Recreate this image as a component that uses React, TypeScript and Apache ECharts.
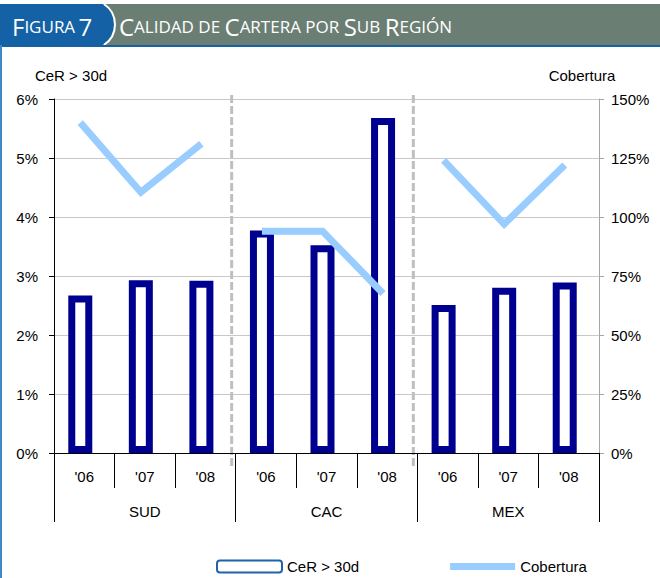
import React, { useEffect, useRef } from "react";
import * as echarts from "echarts";

const yearLabels = ["'06", "'07", "'08", "'06", "'07", "'08", "'06", "'07", "'08"];
const regions = ["SUD", "CAC", "MEX"];
const cerValues = [2.67, 2.93, 2.92, 3.77, 3.52, 5.68, 2.51, 2.8, 2.89];
const coberturaValues = [140, 110.5, 131, 94, 94, 67.6, 124, 97, 122];
const leftAxis = { min: 0, max: 6, interval: 1 };
const rightAxis = { min: 0, max: 150, interval: 25 };

const FONT = "Liberation Sans, Arial, sans-serif";
const HFONT = "Open Sans, Noto Sans, sans-serif";
const NAVY = "#000090";
const LIGHTBLUE = "#99CCFF";
const HEADER_BLUE = "#1462A5";

export default function App() {
  const ref = useRef<HTMLDivElement>(null);
  useEffect(() => {
    document.body.style.margin = "0";
    const chart = echarts.init(ref.current!, null, { renderer: "svg" });
    const perGroup = 3;
    const lineSeries = regions.map((r, gi) => ({
      type: "line",
      name: "Cobertura",
      xAxisIndex: 0,
      yAxisIndex: 1,
      data: coberturaValues.map((v, i) => (Math.floor(i / perGroup) === gi ? v : null)),
      connectNulls: false,
      symbol: "none",
      showSymbol: false,
      lineStyle: { color: LIGHTBLUE, width: 7, join: "miter", cap: "butt" },
      itemStyle: { color: LIGHTBLUE },
      z: 3,
    }));
    const option: any = {
      animation: false,
      textStyle: { fontFamily: FONT },
      grid: [
        { left: 50, right: 65, top: 99, bottom: 125 },
        { left: 54, right: 61, top: 99, bottom: 125 },
      ],
      xAxis: [
        { type: "category", gridIndex: 0, data: yearLabels, show: false },
        {
          type: "category",
          gridIndex: 1,
          data: yearLabels,
          position: "bottom",
          z: 5,
          axisLine: { lineStyle: { color: "#000", width: 1 } },
          axisTick: { show: true, interval: 0, length: 35, lineStyle: { color: "#000" } },
          axisLabel: { interval: 0, margin: 16, fontSize: 15, color: "#000", fontFamily: FONT },
          splitLine: { show: false },
        },
        {
          type: "category",
          gridIndex: 1,
          data: regions,
          position: "bottom",
          axisLine: { show: false },
          axisTick: { show: true, interval: 0, length: 69, lineStyle: { color: "#000" } },
          axisLabel: { interval: 0, margin: 51, fontSize: 15, color: "#000", fontFamily: FONT },
          splitLine: { show: false },
        },
      ],
      yAxis: [
        { type: "value", gridIndex: 0, ...leftAxis, show: false },
        { type: "value", gridIndex: 0, ...rightAxis, show: false },
        {
          type: "value",
          gridIndex: 1,
          position: "left",
          ...leftAxis,
          axisLine: { show: true, lineStyle: { color: "#000" } },
          axisTick: { show: true, length: 5, lineStyle: { color: "#000" } },
          axisLabel: { formatter: "{value}%", margin: 16, fontSize: 15, color: "#000", fontFamily: FONT },
          splitLine: { show: true, lineStyle: { color: "#C8C8C8", width: 1 } },
        },
        {
          type: "value",
          gridIndex: 1,
          position: "right",
          ...rightAxis,
          axisLine: { show: true, lineStyle: { color: "#A6A6A6" } },
          axisTick: { show: true, length: 5, lineStyle: { color: "#A6A6A6" } },
          axisLabel: { formatter: "{value}%", margin: 12, fontSize: 15, color: "#000", fontFamily: FONT },
          splitLine: { show: false },
        },
      ],
      legend: {
        left: 216,
        top: 559,
        padding: 0,
        itemWidth: 65,
        itemHeight: 12,
        itemGap: 91,
        symbolKeepAspect: true,
        textStyle: { fontSize: 15, color: "#000", fontFamily: FONT },
        data: [
          { name: "CeR > 30d", itemStyle: { color: "#fff", borderColor: "#1F64A8", borderWidth: 2 } },
          {
            name: "Cobertura",
            icon: "path://M0,0L64,0L64,7L0,7Z",
            itemStyle: { color: LIGHTBLUE, borderWidth: 0 },
          },
        ],
      },
      series: [
        {
          type: "bar",
          name: "CeR > 30d",
          xAxisIndex: 0,
          yAxisIndex: 0,
          data: cerValues,
          barWidth: 24,
          itemStyle: { color: "#fff", borderColor: NAVY, borderWidth: 7 },
          z: 2,
        },
        ...lineSeries,
      ],
    };
    chart.setOption(option);

    const x2 = chart.convertToPixel({ xAxisIndex: 0 }, 2) as number;
    const x3 = chart.convertToPixel({ xAxisIndex: 0 }, 3) as number;
    const x5 = chart.convertToPixel({ xAxisIndex: 0 }, 5) as number;
    const x6 = chart.convertToPixel({ xAxisIndex: 0 }, 6) as number;
    const yTop = chart.convertToPixel({ yAxisIndex: 0 }, leftAxis.max) as number;
    const yZero = chart.convertToPixel({ yAxisIndex: 0 }, 0) as number;
    const sepXs = [(x2 + x3) / 2, (x5 + x6) / 2];

    const rich = {
      b: { fontSize: 24, fill: "#fff", color: "#fff", fontFamily: HFONT },
      s: { fontSize: 17, fill: "#fff", color: "#fff", fontFamily: HFONT },
    };

    const graphic: any[] = [
      { type: "rect", silent: true, shape: { x: 0, y: 4, width: 660, height: 41 }, style: { fill: "#6B7E74" } },
      { type: "rect", silent: true, shape: { x: 0, y: 4, width: 102, height: 41 }, style: { fill: HEADER_BLUE } },
      {
        type: "sector",
        silent: true,
        shape: { cx: 90.5, cy: 24.5, r: 23.5, r0: 0, startAngle: -1.06, endAngle: 1.06, clockwise: true },
        style: { fill: HEADER_BLUE },
      },
      {
        type: "arc",
        silent: true,
        shape: { cx: 90.5, cy: 24.5, r: 24.5, startAngle: -0.99, endAngle: 0.99, clockwise: true },
        style: { stroke: "#fff", lineWidth: 2, fill: null },
      },
      { type: "rect", silent: true, shape: { x: 0, y: 45, width: 660, height: 2 }, style: { fill: HEADER_BLUE } },
      { type: "rect", silent: true, shape: { x: 0, y: 45, width: 2, height: 533 }, style: { fill: "#3C87C5" } },
      {
        type: "text",
        silent: true,
        x: 12,
        y: 26,
        style: { text: "{b|F}{s|IGURA} {b|7}", rich, fill: "#fff", verticalAlign: "middle", align: "left" },
      },
      {
        type: "text",
        silent: true,
        x: 119,
        y: 26,
        style: {
          text: "{b|C}{s|ALIDAD DE }{b|C}{s|ARTERA POR }{b|S}{s|UB }{b|R}{s|EGIÓN}",
          rich,
          fill: "#fff",
          verticalAlign: "middle",
          align: "left",
        },
      },
      {
        type: "text",
        silent: true,
        x: 71,
        y: 75,
        style: { text: "CeR > 30d", fontSize: 15, fontFamily: FONT, fill: "#000", align: "center", verticalAlign: "middle" },
      },
      {
        type: "text",
        silent: true,
        x: 582,
        y: 75,
        style: { text: "Cobertura", fontSize: 15, fontFamily: FONT, fill: "#000", align: "center", verticalAlign: "middle" },
      },
      ...sepXs.map((x) => ({
        type: "line",
        silent: true,
        z: 1,
        shape: { x1: x, y1: yTop - 4, x2: x, y2: yZero + 16 },
        style: { stroke: "#BFBFBF", lineWidth: 3, lineDash: [8, 3] },
      })),
    ];
    chart.setOption({ graphic });

    return () => chart.dispose();
  }, []);
  return <div ref={ref} style={{ width: 660, height: 578 }} />;
}
